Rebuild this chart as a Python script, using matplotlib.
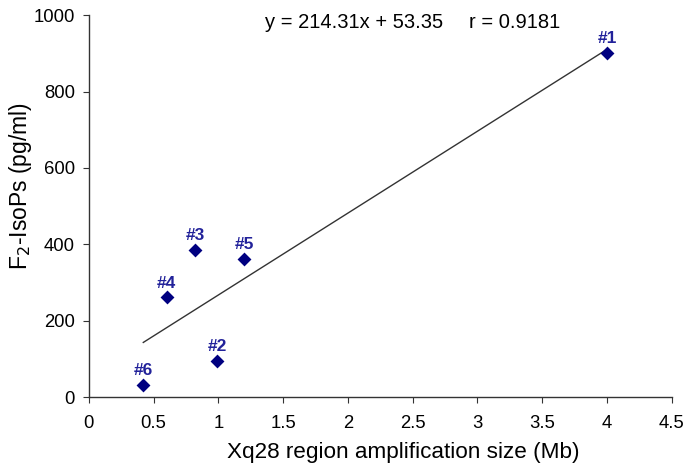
import matplotlib
matplotlib.use("Agg")
import matplotlib.pyplot as plt
import numpy as np

plt.rcParams['font.family'] = ['Liberation Sans', 'DejaVu Sans']

labels = ["#1", "#2", "#3", "#4", "#5", "#6"]
x_vals = [4.0, 0.99, 0.82, 0.60, 1.20, 0.42]
y_vals = [902, 95, 385, 261, 362, 32]
slope = 214.31
intercept = 53.35
r_value = 0.9181
x_ticks = [0, 0.5, 1, 1.5, 2, 2.5, 3, 3.5, 4, 4.5]
x_tick_labels = ["0", "0.5", "1", "1.5", "2", "2.5", "3", "3.5", "4", "4.5"]
y_ticks = [0, 200, 400, 600, 800, 1000]

fig = plt.figure(figsize=(6.89, 4.74), dpi=100)
ax = fig.add_axes([0.129, 0.162, 0.846, 0.806])

xl = np.array([min(x_vals), max(x_vals)])
ax.plot(xl, slope * xl + intercept, color='#333333', lw=1.0, zorder=2)
ax.scatter(x_vals, y_vals, marker='D', s=50, color='#000080', zorder=3, linewidths=0)

for lab, xv, yv in zip(labels, x_vals, y_vals):
    ax.annotate(lab, (xv, yv), xytext=(0, 5), textcoords='offset points',
                ha='center', va='bottom', fontsize=12.5, fontweight='bold',
                color='#22229a')

ax.text(0.302, 0.982, f"y = {slope}x + {intercept}", transform=ax.transAxes,
        fontsize=14.5, ha='left', va='center')
ax.text(0.652, 0.982, f"r = {r_value}", transform=ax.transAxes,
        fontsize=14.5, ha='left', va='center')

ax.set_xlim(0, 4.5)
ax.set_ylim(0, 1000)
ax.set_xticks(x_ticks)
ax.set_xticklabels(x_tick_labels)
ax.set_yticks(y_ticks)
for s in ['top', 'right']:
    ax.spines[s].set_visible(False)
for s in ['left', 'bottom']:
    ax.spines[s].set_color('#333333')
    ax.spines[s].set_linewidth(1.0)
ax.tick_params(axis='both', labelsize=13.3, direction='out', length=4.5, color='#333333')
ax.tick_params(axis='x', pad=8)
ax.tick_params(axis='y', pad=5.5)
ax.set_xlabel("Xq28 region amplification size (Mb)", fontsize=16.2)
ax.set_ylabel("F$_2$-IsoPs (pg/ml)", fontsize=16.5)
ax.xaxis.set_label_coords(0.539, -0.118)
ax.yaxis.set_label_coords(-0.094, 0.554)

fig.savefig("out.png", dpi=100)
